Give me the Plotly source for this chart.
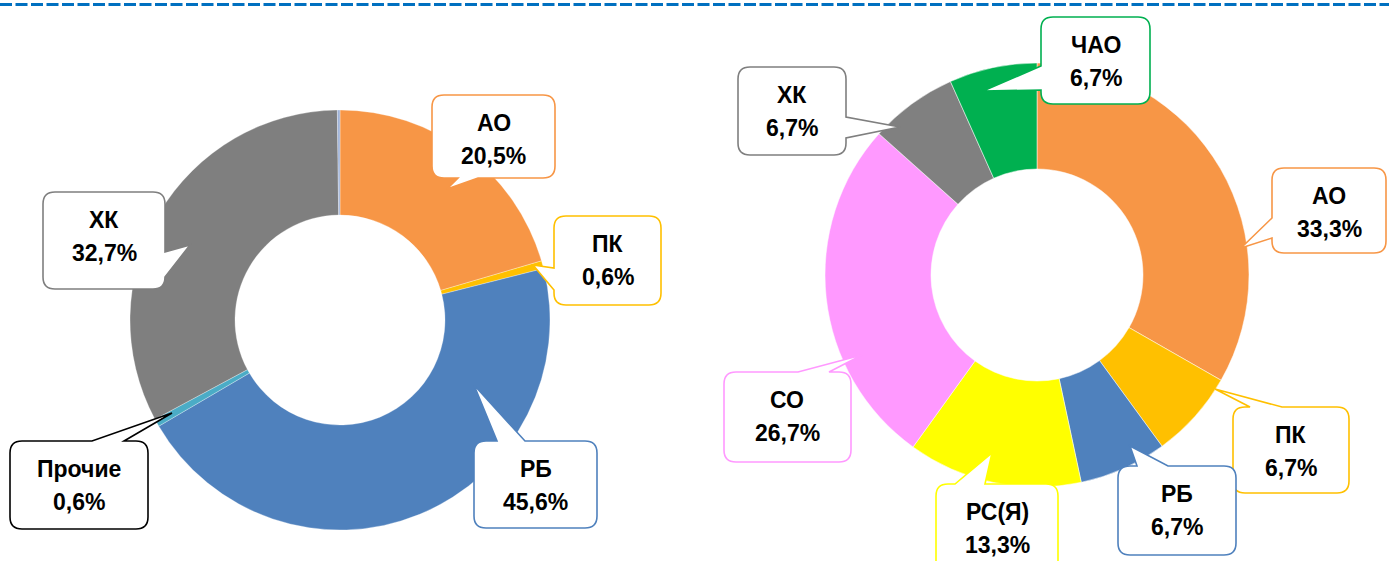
import plotly.graph_objects as go

W, H = 1389, 561

# ---------------- data ----------------
left_labels = ["АО", "ПК", "РБ", "Прочие", "ХК", "Иные"]
left_values = [20.5, 0.6, 45.6, 0.6, 32.7, 0.2]
left_colors = ["#F79646", "#FFC000", "#4F81BD", "#4BACC6", "#7F7F7F", "#9FB3D9"]

right_labels = ["АО", "ПК", "РБ", "РС(Я)", "СО", "ХК", "ЧАО"]
right_values = [33.3, 6.7, 6.7, 13.3, 26.7, 6.7, 6.7]
right_colors = ["#F79646", "#FFC000", "#4F81BD", "#FFFF00", "#FF99FF", "#808080", "#00B050"]


def px(x):
    return x / W


def py(y):
    return 1 - y / H


fig = go.Figure()

# left donut: center (340,320) r=210
fig.add_trace(go.Pie(
    labels=left_labels, values=left_values, hole=0.5, sort=False,
    direction="clockwise", rotation=0, textinfo="none",
    marker=dict(colors=left_colors, line=dict(color="white", width=0.3)),
    domain=dict(x=[px(130), px(550)], y=[py(530), py(110)]),
    showlegend=False,
))
# right donut: center (1037,275) r=212
fig.add_trace(go.Pie(
    labels=right_labels, values=right_values, hole=0.5, sort=False,
    direction="clockwise", rotation=0, textinfo="none",
    marker=dict(colors=right_colors, line=dict(color="white", width=0.5)),
    domain=dict(x=[px(825), px(1249)], y=[py(487), py(63)]),
    showlegend=False,
))


def callout_path(x0, y0, x1, y1, side, a, b, tip, r=12):
    tx, ty = tip

    def P(x, y):
        return f"{px(x):.6f},{py(y):.6f}"

    s = f"M{P(x0 + r, y0)}"
    if side == "top":
        s += f" L{P(min(a, b), y0)} L{P(tx, ty)} L{P(max(a, b), y0)}"
    s += f" L{P(x1 - r, y0)} Q{P(x1, y0)} {P(x1, y0 + r)}"
    if side == "right":
        s += f" L{P(x1, min(a, b))} L{P(tx, ty)} L{P(x1, max(a, b))}"
    s += f" L{P(x1, y1 - r)} Q{P(x1, y1)} {P(x1 - r, y1)}"
    if side == "bottom":
        s += f" L{P(max(a, b), y1)} L{P(tx, ty)} L{P(min(a, b), y1)}"
    s += f" L{P(x0 + r, y1)} Q{P(x0, y1)} {P(x0, y1 - r)}"
    if side == "left":
        s += f" L{P(x0, max(a, b))} L{P(tx, ty)} L{P(x0, min(a, b))}"
    s += f" L{P(x0, y0 + r)} Q{P(x0, y0)} {P(x0 + r, y0)} Z"
    return s


def fmt(v):
    return f"{v:.1f}".replace(".", ",") + "%"


# callout geometry: (chart, label, box, side, a, b, tip, border)
callouts = [
    ("L", "АО", (432, 95, 555, 178), "bottom", 458, 478, (447, 189), "#F79646"),
    ("L", "ПК", (554, 216, 661, 305), "left", 268, 290, (533, 265), "#FFC000"),
    ("L", "РБ", (474, 441, 597, 528), "top", 497, 525, (474, 385), "#4F81BD"),
    ("L", "Прочие", (10, 441, 148, 529), "top", 92, 124, (172, 413), "#000000"),
    ("L", "ХК", (43, 192, 165, 289), "right", 252, 277, (190, 245), "#7F7F7F"),
    ("R", "ЧАО", (1041, 17, 1150, 104), "left", 66, 90, (983, 91), "#00B050"),
    ("R", "ХК", (738, 67, 846, 155), "right", 117, 138, (900, 127), "#7F7F7F"),
    ("R", "АО", (1272, 168, 1386, 253), "left", 218, 238, (1241, 248), "#F79646"),
    ("R", "ПК", (1233, 407, 1349, 493), "top", 1250, 1282, (1215, 389), "#FFC000"),
    ("R", "РБ", (1118, 466, 1236, 555), "top", 1137, 1168, (1130, 446), "#4F81BD"),
    ("R", "РС(Я)", (936, 484, 1058, 578), "top", 955, 985, (992, 453), "#FFFF00"),
    ("R", "СО", (724, 372, 851, 462), "top", 798, 829, (862, 355), "#FF99FF"),
]

shapes = [dict(type="line", xref="paper", yref="paper",
               x0=0, x1=1, y0=py(4.5), y1=py(4.5),
               line=dict(color="#0070C0", width=3.2, dash="12px,3.5px"))]
annotations = []
font = dict(family="Liberation Sans, Arial, sans-serif", size=23, color="#000000")

for chart, lab, box, side, a, b, tip, col in callouts:
    labels = left_labels if chart == "L" else right_labels
    values = left_values if chart == "L" else right_values
    val = values[labels.index(lab)]
    x0, y0, x1, y1 = box
    shapes.append(dict(type="path", xref="paper", yref="paper",
                       path=callout_path(x0, y0, x1, y1, side, a, b, tip),
                       fillcolor="white", line=dict(color=col, width=1.6),
                       layer="above"))
    cx = (x0 + x1) / 2
    for txt, dy in ((f"<b>{lab}</b>", 28), (f"<b>{fmt(val)}</b>", 61)):
        annotations.append(dict(x=px(cx), y=py(y0 + dy), xref="paper", yref="paper",
                                text=txt, showarrow=False, font=font,
                                xanchor="center", yanchor="middle"))

fig.update_layout(
    width=W, height=H, margin=dict(l=0, r=0, t=0, b=0),
    paper_bgcolor="white", plot_bgcolor="white",
    shapes=shapes, annotations=annotations,
)

fig.write_html("out.html", config={"displayModeBar": False},
               post_script="document.body.style.margin='0';document.body.style.overflow='hidden';")
